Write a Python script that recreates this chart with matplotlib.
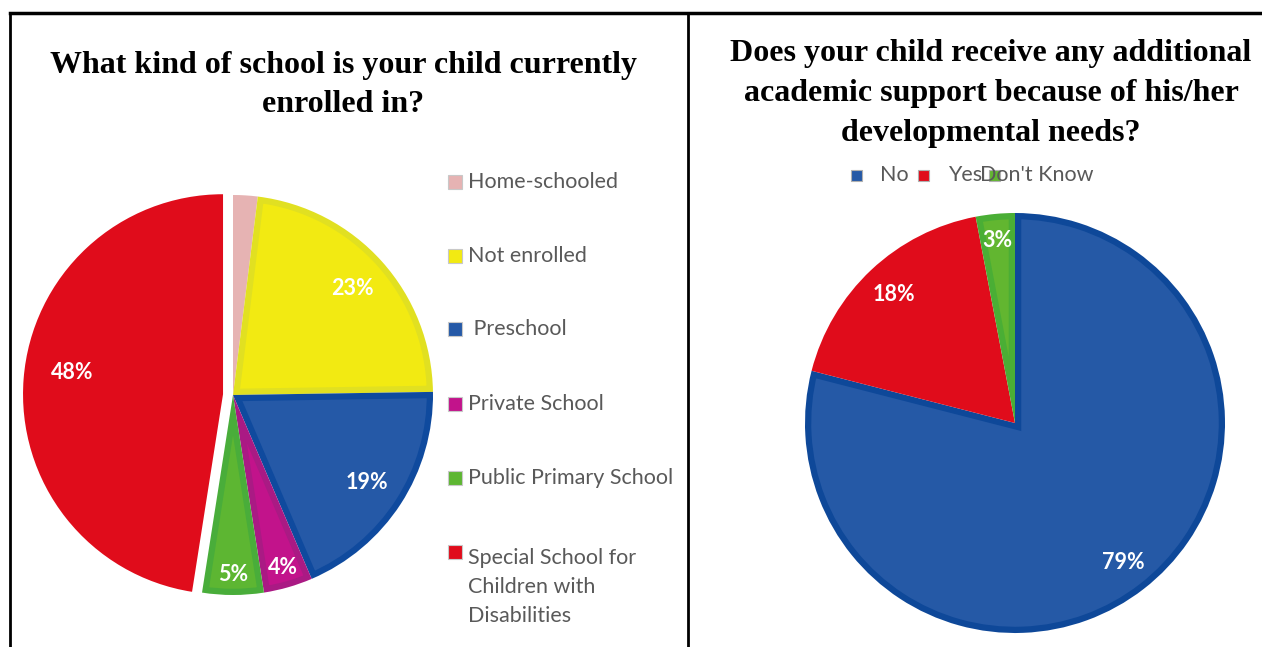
import matplotlib
matplotlib.use("Agg")
import matplotlib.pyplot as plt
from matplotlib.patches import Rectangle, Wedge
from matplotlib.lines import Line2D

W, H = 1262, 647

# left chart data
school_labels = ["Home-schooled", "Not enrolled", " Preschool", "Private School",
                 "Public Primary School", "Special School for\nChildren with\nDisabilities"]
school_values = [2, 23, 19, 4, 5, 48]
school_colors = ["#e6b3b3", "#f2ea12", "#2559a7", "#c2138b", "#5db632", "#e00c1b"]
school_edges = ["#e6b3b3", "#e1e021", "#0f4a9e", "#aa1a84", "#49ad3a", "#e00c1b"]

# right chart data
support_labels = ["No", "Yes", "Don't Know"]
support_values = [79, 18, 3]
support_colors = ["#2559a6", "#e00c1b", "#62b630"]
support_edges = ["#0e4899", "#e00c1b", "#4aae35"]

title_font = "Liberation Serif"
body_font = "Lato"

fig = plt.figure(figsize=(W / 100, H / 100), dpi=100)


def fx(x):
    return x / W


def fy(y):
    return 1 - y / H


def pie_axes(cx, cy, r, lim=1.15):
    ax = fig.add_axes([(cx - lim * r) / W, (H - cy - lim * r) / H,
                       2 * lim * r / W, 2 * lim * r / H])
    return ax


def draw_pie(ax, values, colors, edges, explode, pctdist, lim=1.15):
    def fmt(p):
        return "%d%%" % round(p) if p >= 2.5 else ""
    ax.set_xlim(-lim, lim)
    ax.set_ylim(-lim, lim)
    wedges, texts, autotexts = ax.pie(values, colors=colors, startangle=90, counterclock=False,
                                      explode=explode, autopct=fmt, pctdistance=pctdist,
                                      wedgeprops=dict(linewidth=0),
                                      textprops=dict(color="white", fontsize=15.5,
                                                     fontweight="bold", family=body_font))
    # darker inner band: stroked copy of each wedge clipped to the wedge
    for w, ec in zip(wedges, edges):
        band = ax.add_patch(Wedge(w.center, w.r, w.theta1, w.theta2,
                                  facecolor="none", edgecolor=ec,
                                  linewidth=9, zorder=w.get_zorder() + 0.1))
        band.set_clip_path(w.get_path(), w.get_transform())
    # white separators
    ax.pie(values, colors=["none"] * len(values), startangle=90, counterclock=False,
           explode=explode, wedgeprops=dict(linewidth=2, edgecolor="white"))
    for t in autotexts:
        t.set_zorder(5)
    ax.set_xlim(-lim, lim)
    ax.set_ylim(-lim, lim)
    ax.axis("off")
    return autotexts


# left pie
ax1 = pie_axes(233, 395, 200)
at1 = draw_pie(ax1, school_values, school_colors, school_edges,
               [0, 0, 0, 0, 0, 0.05], 0.8)
for t, v in zip(at1, school_values):
    x, y = t.get_position()
    if v <= 5:
        t.set_position((x * 1.12, y * 1.12))
    elif v > 40:
        t.set_position((x * 0.95, y * 0.95 + 0.05))

# right pie
ax2 = pie_axes(1015, 423, 210)
at2 = draw_pie(ax2, support_values, support_colors, support_edges, [0, 0, 0], 0.84)
at2[2].set_position((at2[2].get_position()[0] * 1.04, at2[2].get_position()[1] * 1.04))

# titles
fig.text(fx(343), fy(65), "What kind of school is your child currently", ha="center", va="center",
         fontsize=23, fontweight="bold", family=title_font)
fig.text(fx(343), fy(105), "enrolled in?", ha="center", va="center",
         fontsize=23, fontweight="bold", family=title_font)
for i, line in enumerate(["Does your child receive any additional",
                          "academic support because of his/her",
                          "developmental needs?"]):
    fig.text(fx(991), fy(53 + 40.5 * i), line, ha="center", va="center",
             fontsize=23, fontweight="bold", family=title_font)

# left legend
leg_y = [182, 256, 329, 404, 478, 552]
for lab, col, y in zip(school_labels, school_colors, leg_y):
    fig.add_artist(Rectangle((fx(448), fy(y + 7)), 14 / W, 14 / H, facecolor=col,
                             edgecolor="#c8c8c8", linewidth=0.8, transform=fig.transFigure))
    top = y - 10 if "\n" not in lab else y - 4
    fig.text(fx(468), fy(top), lab, ha="left", va="top", fontsize=15.5,
             color="#595959", family=body_font, linespacing=1.55)

# right legend (entries overlap like the original)
rl_sq = [851, 918, 989]
rl_tx = [880, 948, 980]
for lab, col, sx, tx in zip(support_labels, support_colors, rl_sq, rl_tx):
    fig.add_artist(Rectangle((fx(sx), fy(181)), 11 / W, 11 / H, facecolor=col,
                             edgecolor="#b0b0b0", linewidth=0.8, transform=fig.transFigure))
    fig.text(fx(tx), fy(175), lab, ha="left", va="center", fontsize=15.5,
             color="#595959", family=body_font)

# frame lines
fig.add_artist(Line2D([fx(10), fx(W)], [fy(13), fy(13)], color="black", lw=2.5,
                      transform=fig.transFigure))
fig.add_artist(Line2D([fx(10), fx(10)], [fy(13), fy(H)], color="black", lw=2,
                      transform=fig.transFigure))
fig.add_artist(Line2D([fx(688), fx(688)], [fy(13), fy(H)], color="black", lw=2,
                      transform=fig.transFigure))

fig.savefig("out.png", dpi=100)
